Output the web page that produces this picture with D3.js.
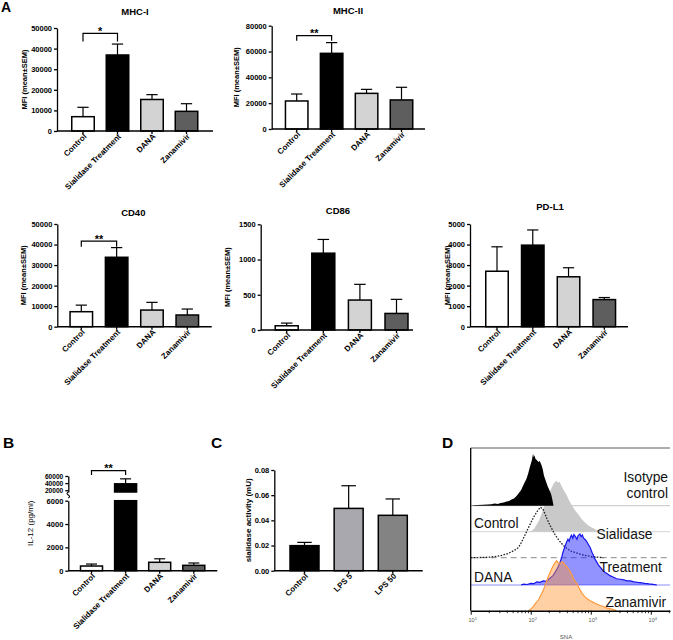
<!DOCTYPE html>
<html><head><meta charset="utf-8">
<script src="https://cdn.jsdelivr.net/npm/d3@7"></script>
<style>
body{margin:0;background:#fff}
svg{display:block;font-family:"Liberation Sans",Arial,sans-serif}
</style></head><body>
<svg id="c" width="673" height="640"></svg>
<script>
// ---------------- data ----------------
const catsA = ["Control","Sialidase Treatment","DANA","Zanamivir"];
const fillsA = ["#ffffff","#000000","#d3d3d3","#5e5e5e"];
const mhc1Mean = [6950, 36900, 15300, 9550];
const mhc1Sem  = [4550, 5300, 2350, 3700];
const mhc1Ticks = [0,10000,20000,30000,40000,50000];
const mhc2Mean = [21700, 58600, 27600, 22500];
const mhc2Sem  = [5400, 8300, 3100, 9800];
const mhc2Ticks = [0,20000,40000,60000,80000];
const cd40Mean = [7300, 33800, 8100, 5700];
const cd40Sem  = [3200, 4700, 3750, 2900];
const cd40Ticks = [0,10000,20000,30000,40000,50000];
const cd86Mean = [60, 1090, 425, 235];
const cd86Sem  = [38, 195, 223, 200];
const cd86Ticks = [0,500,1000,1500];
const pdl1Mean = [2700, 3970, 2430, 1320];
const pdl1Sem  = [1190, 740, 440, 100];
const pdl1Ticks = [0,1000,2000,3000,4000,5000];
const il12Mean = [400, 38000, 720, 460];
const il12Sem  = [170, 14000, 300, 200];
const il12LowTicks = [0,2000,4000,6000];
const il12HighTicks = [20000,40000,60000];
const catsC = ["Control","LPS 5","LPS 50"];
const fillsC = ["#000000","#a8a8ae","#838383"];
const sialMean = [0.0199, 0.0495, 0.044];
const sialSem  = [0.0026, 0.018, 0.013];
const sialTicks = [0,0.02,0.04,0.06,0.08];
// significance: [fromIdx, toIdx, label, bracket level, leg bottom]
const sigMhc1 = [0,1,"*",47400,43400];
const sigMhc2 = [0,1,"**",72300,68400];
const sigCd40 = [0,1,"**",41700,38900];
const sigIl12 = [0,1,"**",74900,62800];
// flow histograms (D): [log10 SNA, relative count]
const histIsotype = [[1.00,0],[1.05,1],[1.12,1.5],[1.2,2],[1.28,2.5],[1.34,3],[1.4,4],[1.45,3.5],[1.5,5],[1.55,6],[1.6,8],[1.64,9],[1.68,12],[1.72,14],[1.76,18],[1.8,24],[1.84,30],[1.87,38],[1.9,45],[1.93,52],[1.96,63],[1.98,72],[2.0,80],[2.02,88],[2.03,95],[2.04,100],[2.05,93],[2.06,97],[2.08,90],[2.1,88],[2.13,84],[2.15,86],[2.18,78],[2.2,70],[2.22,58],[2.25,48],[2.28,38],[2.31,30],[2.34,22],[2.36,12],[2.38,0]];
const histSialidase = [[1.98,0],[2.02,2],[2.06,6],[2.1,14],[2.14,22],[2.18,34],[2.22,48],[2.26,60],[2.3,72],[2.34,82],[2.37,90],[2.4,95],[2.43,98],[2.45,94],[2.48,96],[2.52,86],[2.56,78],[2.6,70],[2.64,60],[2.68,52],[2.72,44],[2.76,38],[2.8,32],[2.85,24],[2.9,18],[2.95,13],[3.0,9],[3.05,6],[3.1,3],[3.18,1],[3.27,0]];
const histControl = [[1.0,0],[1.2,0.5],[1.32,1],[1.45,3],[1.54,5],[1.62,8],[1.71,13],[1.78,18],[1.82,24],[1.87,35],[1.93,50],[1.98,62],[2.04,76],[2.1,88],[2.16,97],[2.19,95],[2.21,92],[2.24,84],[2.27,75],[2.31,65],[2.35,56],[2.39,47],[2.43,40],[2.48,32],[2.54,24],[2.6,18],[2.66,13],[2.74,10],[2.82,7],[2.92,4],[3.04,2],[3.21,0]];
const histTreatment = [[1.84,0],[1.88,1.5],[1.94,1],[2.0,3],[2.05,2.5],[2.1,6],[2.15,5],[2.21,8],[2.26,7],[2.32,13],[2.37,18],[2.43,29],[2.46,36],[2.49,44],[2.52,55],[2.54,64],[2.57,74],[2.6,83],[2.62,88],[2.64,84],[2.66,92],[2.68,96],[2.7,90],[2.72,97],[2.75,92],[2.77,88],[2.79,95],[2.82,98],[2.84,93],[2.86,96],[2.88,90],[2.91,87],[2.93,84],[2.96,78],[2.99,72],[3.02,63],[3.04,58],[3.07,50],[3.1,44],[3.13,38],[3.16,34],[3.2,28],[3.24,24],[3.27,22],[3.32,18],[3.38,15],[3.43,12],[3.49,11],[3.55,10],[3.6,8],[3.66,8],[3.72,6],[3.78,5],[3.82,4.5],[3.9,3],[3.97,2],[4.04,1.3],[4.1,0]];
const histZanamivir = [[1.96,0],[2.0,3],[2.04,8],[2.08,14],[2.13,21],[2.17,30],[2.21,40],[2.25,52],[2.29,65],[2.33,76],[2.38,88],[2.41,93],[2.43,96],[2.46,92],[2.49,91],[2.52,94],[2.54,93],[2.57,88],[2.6,85],[2.63,80],[2.66,75],[2.69,68],[2.71,62],[2.74,56],[2.77,52],[2.8,45],[2.82,40],[2.86,33],[2.9,27],[2.95,22],[2.99,19],[3.04,16],[3.1,13],[3.16,10],[3.21,8],[3.27,5],[3.32,4],[3.38,2],[3.43,0]];
const snaTicks = [10,100,1000,10000];
const snaTickExp = ["1","2","3","4"];

// ---------------- drawing ----------------
const svg = d3.select("#c");
const FONT_TICK = 7.5, FONT_X = 8;

function styleAxis(sel, fs){
  sel.select(".domain").attr("stroke","#000").attr("stroke-width",1.3);
  sel.selectAll(".tick line").attr("stroke","#000").attr("stroke-width",1.3);
  sel.selectAll(".tick text").attr("font-size",fs||FONT_TICK).attr("font-weight","bold")
     .attr("font-family",'"Liberation Sans",Arial,sans-serif').attr("fill","#000");
}

function makeX(o){
  const n = o.cats.length;
  const step = (o.c1 - o.c0)/(n-1);
  return d3.scaleBand().domain(o.cats).range([o.c0-step/2, o.c1+step/2]).padding(0);
}

function xAxisAndLabels(g, o, x){
  g.append("line").attr("x1",o.ax).attr("x2",o.axEnd).attr("y1",o.yBot).attr("y2",o.yBot)
    .attr("stroke","#000").attr("stroke-width",1.4);
  const xa = d3.axisBottom(x).tickSize(3).tickSizeOuter(0).tickFormat("");
  const ag = g.append("g").attr("transform",`translate(0,${o.yBot})`).call(xa);
  ag.select(".domain").remove();
  ag.selectAll(".tick line").attr("stroke","#000").attr("stroke-width",1.3);
  g.selectAll("text.xl").data(o.cats).join("text").attr("class","xl")
    .attr("transform", d => `translate(${x(d)+x.bandwidth()/2+4},${o.yBot+6}) rotate(-45)`)
    .attr("text-anchor","end").attr("font-size",FONT_X).attr("font-weight","bold").text(d=>d);
}

function bars(g, o, x, y, idxs){
  const c = d => x(o.cats[d]) + x.bandwidth()/2;
  g.selectAll(null).data(idxs).join("rect")
    .attr("x", i => c(i)-o.bw/2).attr("width", o.bw)
    .attr("y", i => y(o.mean[i])).attr("height", i => y(0)-y(o.mean[i]))
    .attr("fill", i => o.fills[i]).attr("stroke","#000").attr("stroke-width",1.5);
}
function errs(g, o, x, y, idxs){
  const c = d => x(o.cats[d]) + x.bandwidth()/2;
  const cw = o.bw*0.5;
  idxs.forEach(i=>{
    const top = y(o.mean[i]+o.sem[i]);
    g.append("line").attr("x1",c(i)).attr("x2",c(i)).attr("y1",y(o.mean[i])).attr("y2",top)
      .attr("stroke","#000").attr("stroke-width",1.2);
    g.append("line").attr("x1",c(i)-cw/2).attr("x2",c(i)+cw/2).attr("y1",top).attr("y2",top)
      .attr("stroke","#000").attr("stroke-width",1.2);
  });
}
function sig(g, o, x, y, s){
  const c = d => x(o.cats[d]) + x.bandwidth()/2;
  const x1 = c(s[0]), x2 = c(s[1]), yl = y(s[3]), yb = y(s[4]);
  g.append("path").attr("d",`M${x1},${yb}V${yl}H${x2}V${yb}`).attr("fill","none")
    .attr("stroke","#000").attr("stroke-width",1.2);
  g.append("text").attr("x",(x1+x2)/2).attr("y",yl+1.5).attr("text-anchor","middle")
    .attr("font-size",11).attr("font-weight","bold").text(s[2]);
}
function ylabel(g, txt, cx, cy, size, weight){
  g.append("text").attr("transform",`translate(${cx},${cy}) rotate(-90)`).attr("dy","0.35em")
    .attr("text-anchor","middle").attr("font-size",size).attr("font-weight",weight).text(txt);
}

function barPanel(o){
  const g = svg.append("g");
  const x = makeX(o);
  const y = d3.scaleLinear().domain([0,o.ymax]).range([o.yBot,o.yTop]);
  const idx = o.mean.map((d,i)=>i);
  errs(g,o,x,y,idx);
  bars(g,o,x,y,idx);
  const ya = d3.axisLeft(y).tickValues(o.ticks).tickSize(3).tickSizeOuter(0).tickPadding(2)
    .tickFormat(o.fmt || d3.format("d"));
  g.append("g").attr("transform",`translate(${o.ax},0)`).call(ya).call(styleAxis);
  xAxisAndLabels(g,o,x);
  if(o.sig) sig(g,o,x,y,o.sig);
  if(o.title) g.append("text").attr("x",o.tx).attr("y",o.ty).attr("text-anchor","middle")
      .attr("font-size",9.5).attr("font-weight","bold").text(o.title);
  ylabel(g, o.ylab, o.ylx, (o.yTop+o.yBot)/2, o.ylSize||7.5, o.ylWeight||"bold");
}

// Panel A
barPanel({cats:catsA, fills:fillsA, mean:mhc1Mean, sem:mhc1Sem, ticks:mhc1Ticks, ymax:50000,
  ax:57, axEnd:213, yTop:28, yBot:131, c0:83, c1:186.5, bw:22.5, sig:sigMhc1,
  title:"MHC-I", tx:135, ty:15, ylab:"MFI (mean±SEM)", ylx:24});
barPanel({cats:catsA, fills:fillsA, mean:mhc2Mean, sem:mhc2Sem, ticks:mhc2Ticks, ymax:80000,
  ax:271.7, axEnd:425, yTop:25.7, yBot:129, c0:296.7, c1:401.5, bw:22.5, sig:sigMhc2,
  title:"MHC-II", tx:348, ty:14, ylab:"MFI (mean±SEM)", ylx:236.5});
barPanel({cats:catsA, fills:fillsA, mean:cd40Mean, sem:cd40Sem, ticks:cd40Ticks, ymax:50000,
  ax:57.3, axEnd:211.7, yTop:224, yBot:326.7, c0:81.3, c1:187.3, bw:22.5, sig:sigCd40,
  title:"CD40", tx:133.3, ty:216, ylab:"MFI (mean±SEM)", ylx:23.7});
barPanel({cats:catsA, fills:fillsA, mean:cd86Mean, sem:cd86Sem, ticks:cd86Ticks, ymax:1500,
  ax:260.7, axEnd:413, yTop:224.3, yBot:330, c0:286.7, c1:396.5, bw:23,
  title:"CD86", tx:338, ty:214, ylab:"MFI (mean±SEM)", ylx:227});
barPanel({cats:catsA, fills:fillsA, mean:pdl1Mean, sem:pdl1Sem, ticks:pdl1Ticks, ymax:5000,
  ax:470, axEnd:628, yTop:224, yBot:326.7, c0:497, c1:604.3, bw:22.5,
  title:"PD-L1", tx:550, ty:210, ylab:"MFI (mean±SEM)", ylx:447});

// Panel C
barPanel({cats:catsC, fills:fillsC, mean:sialMean, sem:sialSem, ticks:sialTicks, ymax:0.08,
  ax:274.3, axEnd:422.7, yTop:470, yBot:570.7, c0:304.5, c1:392.8, bw:29, fmt:d3.format(".2f"),
  ylab:"sialidase activity (mU)", ylx:248, ylSize:8});

// Panel B (broken axis)
(function(){
  const o = {cats:catsA, fills:fillsA, mean:il12Mean, sem:il12Sem, ax:68.3, axEnd:217.3,
    yBot:570.7, c0:91.5, c1:193.8, bw:22};
  const g = svg.append("g");
  const x = makeX(o);
  const yLow = d3.scaleLinear().domain([0,6000]).range([570.7,500.7]);
  const yHigh = d3.scaleLinear().domain([15000,60000]).range([492,476]);
  errs(g,o,x,yLow,[0,2,3]);
  bars(g,o,x,yLow,[0,2,3]);
  const c1 = x(o.cats[1]) + x.bandwidth()/2;
  errs(g,o,x,yHigh,[1]);
  g.append("rect").attr("x",c1-o.bw/2).attr("width",o.bw).attr("y",yLow(6000))
    .attr("height",yLow(0)-yLow(6000)).attr("fill","#000").attr("stroke","#000").attr("stroke-width",1.5);
  g.append("rect").attr("x",c1-o.bw/2).attr("width",o.bw).attr("y",yHigh(o.mean[1]))
    .attr("height",yHigh(15000)-yHigh(o.mean[1])).attr("fill","#000").attr("stroke","#000").attr("stroke-width",1.5);
  const yaL = d3.axisLeft(yLow).tickValues(il12LowTicks).tickSize(3).tickSizeOuter(0).tickPadding(2).tickFormat(d3.format("d"));
  g.append("g").attr("transform",`translate(${o.ax},0)`).call(yaL).call(styleAxis);
  const yaH = d3.axisLeft(yHigh).tickValues(il12HighTicks).tickSize(3).tickSizeOuter(0).tickPadding(2).tickFormat(d3.format("d"));
  g.append("g").attr("transform",`translate(${o.ax},0)`).call(yaH).call(s=>styleAxis(s,6.6));
  g.append("path").attr("d",`M${o.ax},492 q-2.5,1.5 0,3 q2.5,1.5 0,3`).attr("fill","none")
    .attr("stroke","#000").attr("stroke-width",1.1);
  xAxisAndLabels(g,o,x);
  sig(g,o,x,yHigh,sigIl12);
  ylabel(g,"IL-12 (pg/ml)",29.7,523.3,8,"normal");
})();

// Panel D (flow histograms)
(function(){
  const g = svg.append("g");
  const L = 470.7, R = 670, T = 448, B = 610.7;
  const xD = d3.scaleLog().domain([10, Math.pow(10,4.32)]).range([L,R]);
  const hD = d3.scaleLinear().domain([0,100]).range([0,52]);
  const area = base => d3.area().x(d=>xD(Math.pow(10,d[0]))).y0(base).y1(d=>base-hD(d[1]));
  const line = base => d3.line().x(d=>xD(Math.pow(10,d[0]))).y(d=>base-hD(d[1]));
  const bIso=505.7, bSia=531.7, bCtl=557.7, bTrt=585, bZan=610.7;
  g.append("line").attr("x1",L).attr("x2",R).attr("y1",bIso).attr("y2",bIso).attr("stroke","#c4c4c4").attr("stroke-width",1);
  g.append("line").attr("x1",L).attr("x2",R).attr("y1",bSia).attr("y2",bSia).attr("stroke","#d4d4d4").attr("stroke-width",1);
  g.append("line").attr("x1",L).attr("x2",R).attr("y1",bCtl).attr("y2",bCtl).attr("stroke","#8a8a8a").attr("stroke-width",1).attr("stroke-dasharray","6,4");
  g.append("path").datum(histSialidase).attr("d",area(bSia)).attr("fill","#c9c9c9");
  g.append("path").datum(histIsotype).attr("d",area(bIso)).attr("fill","#000");
  g.append("path").datum(histControl).attr("d",line(bCtl)).attr("fill","none")
    .attr("stroke","#222").attr("stroke-width",1.3).attr("stroke-dasharray","1.6,1.4");
  g.append("line").attr("x1",L).attr("x2",R).attr("y1",bTrt).attr("y2",bTrt).attr("stroke","#8c8cff").attr("stroke-width",1);
  g.append("path").datum(histTreatment).attr("d",area(bTrt)).attr("fill","rgba(40,40,255,0.5)");
  g.append("path").datum(histTreatment).attr("d",line(bTrt)).attr("fill","none").attr("stroke","#1414ee").attr("stroke-width",1.2);
  g.append("path").datum(histZanamivir).attr("d",area(bZan)).attr("fill","rgba(255,150,50,0.45)");
  g.append("path").datum(histZanamivir).attr("d",line(bZan)).attr("fill","none").attr("stroke","#ff9a3c").attr("stroke-width",1.2);
  g.append("line").attr("x1",L).attr("x2",R).attr("y1",T).attr("y2",T).attr("stroke","#333").attr("stroke-width",0.8);
  g.append("line").attr("x1",L).attr("x2",L).attr("y1",T).attr("y2",B).attr("stroke","#000").attr("stroke-width",1.3);
  const minor = [];
  for(let e=1;e<=4;e++) for(let k=2;k<=9;k++){ const v=k*Math.pow(10,e); if(xD(v)<=R) minor.push(v); }
  const axM = d3.axisBottom(xD).tickValues(minor).tickSize(2.5).tickSizeOuter(0).tickFormat("");
  g.append("g").attr("transform",`translate(0,${B})`).call(axM).call(s=>{
    s.select(".domain").remove(); s.selectAll(".tick line").attr("stroke","#000").attr("stroke-width",0.8);});
  const axJ = d3.axisBottom(xD).tickValues(snaTicks).tickSize(4).tickSizeOuter(0).tickFormat("");
  g.append("g").attr("transform",`translate(0,${B})`).call(axJ).call(s=>{
    s.select(".domain").attr("stroke","#000").attr("stroke-width",1.6);
    s.selectAll(".tick line").attr("stroke","#000").attr("stroke-width",1);});
  snaTicks.forEach((v,i)=>{
    const t = g.append("text").attr("x",xD(v)+2).attr("y",622).attr("text-anchor","middle")
      .attr("font-size",5.5).attr("fill","#555");
    t.append("tspan").text("10");
    t.append("tspan").attr("font-size",4).attr("dy",-2).text(snaTickExp[i]);
  });
  g.append("text").attr("x",566).attr("y",639).attr("text-anchor","middle").attr("font-size",6)
    .attr("fill","#555").text("SNA");
  const lab = (t,x,y,anchor)=>g.append("text").attr("x",x).attr("y",y).attr("text-anchor",anchor||"start")
    .attr("font-size",13.8).attr("fill","#111").text(t);
  lab("Isotype",668,482,"end");
  lab("control",668,497.5,"end");
  lab("Control",474,527.5);
  lab("Sialidase",596.5,539);
  lab("Treatment",599.5,571.7);
  lab("DANA",474,582.3);
  lab("Zanamivir",605.5,606.7);
})();

// panel letters
[["A",1,12,14],["B",3,448,15.5],["C",211,448,15.5],["D",442,448,15.5]].forEach(d=>{
  svg.append("text").attr("x",d[1]).attr("y",d[2]).attr("font-size",d[3]).attr("font-weight","bold").text(d[0]);
});
</script>
</body></html>
